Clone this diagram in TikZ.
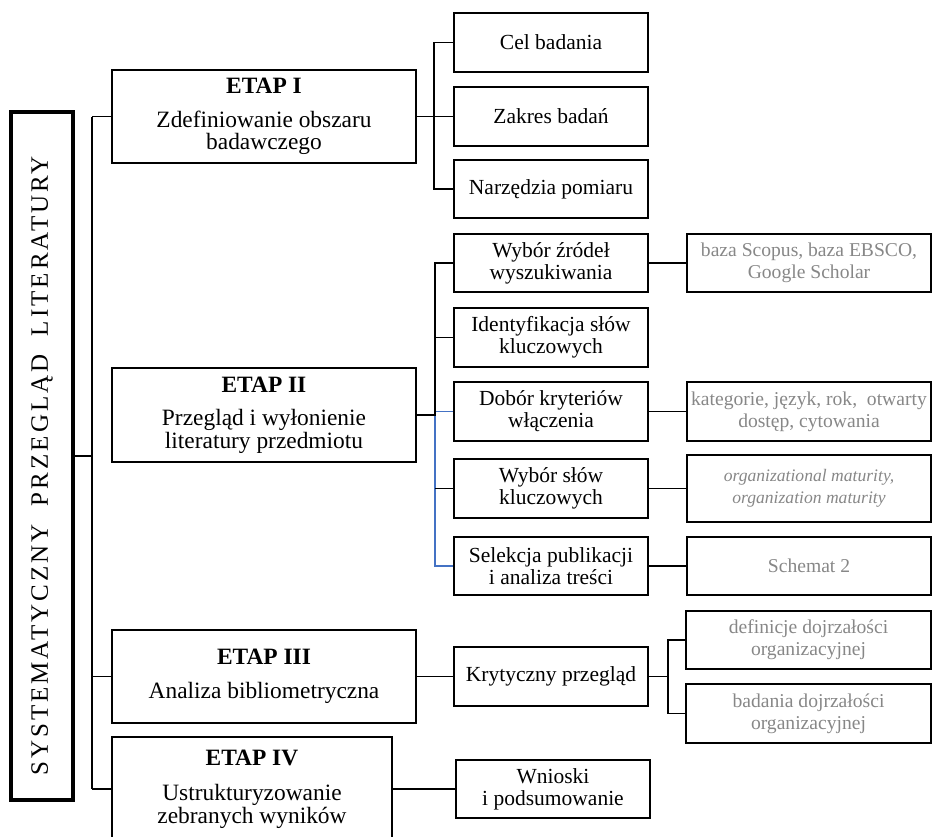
\documentclass[tikz,border=0pt]{standalone}
\usepackage{fontspec}
\setmainfont{LiberationSerif}[Extension=.ttf, UprightFont=*-Regular, BoldFont=*-Bold, ItalicFont=*-Italic, BoldItalicFont=*-BoldItalic]
\usetikzlibrary{calc}
\definecolor{greytxt}{RGB}{135,135,135}
\definecolor{lineblue}{RGB}{68,114,196}
\newcommand\etapfont{\fontsize{23.4}{22.5}\selectfont}
\newcommand\subfont{\fontsize{21.5}{22}\selectfont}
\newcommand\greyfont{\fontsize{19.6}{21.7}\selectfont}
\newcommand\italfont{\fontsize{17.6}{21.5}\selectfont\itshape}
\newcommand\sprfont{\fontsize{25}{25}\selectfont\addfontfeature{LetterSpace=12}}
\begin{document}
\begin{tikzpicture}[x=1pt,y=-1pt,
  stagebox/.style={draw, line width=1.6pt, minimum width=304pt, minimum height=93pt, align=center, inner sep=0pt, font=\etapfont},
  subbox/.style={draw, line width=1.6pt, minimum width=194pt, minimum height=58.5pt, align=center, inner sep=0pt, font=\subfont},
  greybox/.style={draw, line width=1.6pt, minimum width=244pt, minimum height=58.5pt, align=center, inner sep=0pt, font=\greyfont, text=greytxt},
  mainbox/.style={draw, line width=3.5pt, minimum width=688pt, minimum height=62pt, inner sep=0pt, rotate=90, font=\sprfont},
  conn/.style={line width=1.6pt},
  trunkline/.style={line width=1.3pt},
  blueconn/.style={line width=1.6pt, draw=lineblue}]
\useasboundingbox (0,0) rectangle (933,836);
\clip (0,0) rectangle (933,836);

% main box
\node[mainbox] (main) at (42,456) {SYSTEMATYCZNY\ \ PRZEGLĄD\ \ LITERATURY\hspace*{20pt}};

% stages
\node[stagebox] (e1) at (264,116.5) {\textbf{ETAP I}\\[11pt]Zdefiniowanie obszaru\\badawczego};
\node[stagebox, minimum height=94pt] (e2) at (264,415) {\textbf{ETAP II}\\[11pt]Przegląd i wyłonienie\\literatury przedmiotu};
\node[stagebox] (e3) at (264,676.5) {\textbf{ETAP III}\\[11pt]Analiza bibliometryczna};
\node[stagebox, minimum width=280pt, minimum height=104pt] (e4) at (252,789) {\textbf{ETAP IV}\\[13pt]Ustrukturyzowanie\\zebranych wyników};

% stage I children
\node[subbox] (cel) at (551,42.5) {Cel badania};
\node[subbox] (zak) at (551,116.5) {Zakres badań};
\node[subbox, minimum height=58pt] (nar) at (551,189) {Narzędzia pomiaru};

% stage II children
\node[subbox] (wz) at (551,263) {Wybór źródeł\\wyszukiwania};
\node[subbox] (ident) at (551,337.5) {Identyfikacja słów\\kluczowych};
\node[subbox] (dob) at (551,411.5) {Dobór kryteriów\\włączenia};
\node[subbox] (wsl) at (551,488.5) {Wybór słów\\kluczowych};
\node[subbox] (sel) at (551,566) {Selekcja publikacji\\i analiza treści};

\node[greybox] (baza) at (809,263) {baza Scopus, baza EBSCO,\\Google Scholar};
\node[greybox] (kat) at (809,411.5) {kategorie, język, rok,\ \ otwarty\\dostęp, cytowania};
\node[greybox, minimum height=67pt, font=\italfont] (org) at (809,488.5) {organizational maturity,\\organization maturity};
\node[greybox] (sch) at (809,566) {Schemat 2};

% stage III children
\node[subbox] (kryt) at (551,676.5) {Krytyczny przegląd};
\node[greybox, minimum width=245pt] (def) at (808.5,640) {definicje dojrzałości\\organizacyjnej};
\node[greybox, minimum width=245pt] (bad) at (808.5,713.5) {badania dojrzałości\\organizacyjnej};

% stage IV child
\node[subbox] (wn) at (553,789) {Wnioski\\i podsumowanie};

% trunk
\coordinate (tTop) at (92,117);
\coordinate (tBot) at (92,789);
\draw[trunkline] (tTop) -- (tBot);
\draw[trunkline] (main.south) -- (main.south -| tTop);
\draw[conn] (e1.west -| tTop) -- (e1.west);
\draw[conn] (e3.west -| tTop) -- (e3.west);
\draw[conn] (e4.west -| tTop) -- (e4.west);

% stage I branch
\draw[conn] (e1.east) -- (zak.west);
\draw[conn] (cel.west) -- ++(-19,0) coordinate (b1) |- (nar.west);

% stage II branch
\draw[blueconn] (dob.west) -- ++(-18,0) coordinate (b2) |- (sel.west);
\draw[conn] (wz.west) -- (wz.west -| b2) -- ($(e2.east -| b2)+(0,1)$);
\draw[conn] (e2.east) -- (e2.east -| b2);
\draw[conn] (ident.west) -- (ident.west -| b2);
\draw[conn] (wsl.west) -- (wsl.west -| b2);
\draw[conn] (wz.east) -- (baza.west);
\draw[conn] (dob.east) -- (kat.west);
\draw[conn] (wsl.east) -- (org.west);
\draw[conn] (sel.east) -- (sch.west);

% stage III branch
\draw[conn] (e3.east) -- (kryt.west);
\draw[conn] (kryt.east) -- ++(19,0) coordinate (b3);
\draw[conn] (def.west) -- (def.west -| b3) -- (bad.west -| b3) -- (bad.west);

% stage IV branch
\draw[conn] (e4.east) -- (wn.west);
\end{tikzpicture}
\end{document}
